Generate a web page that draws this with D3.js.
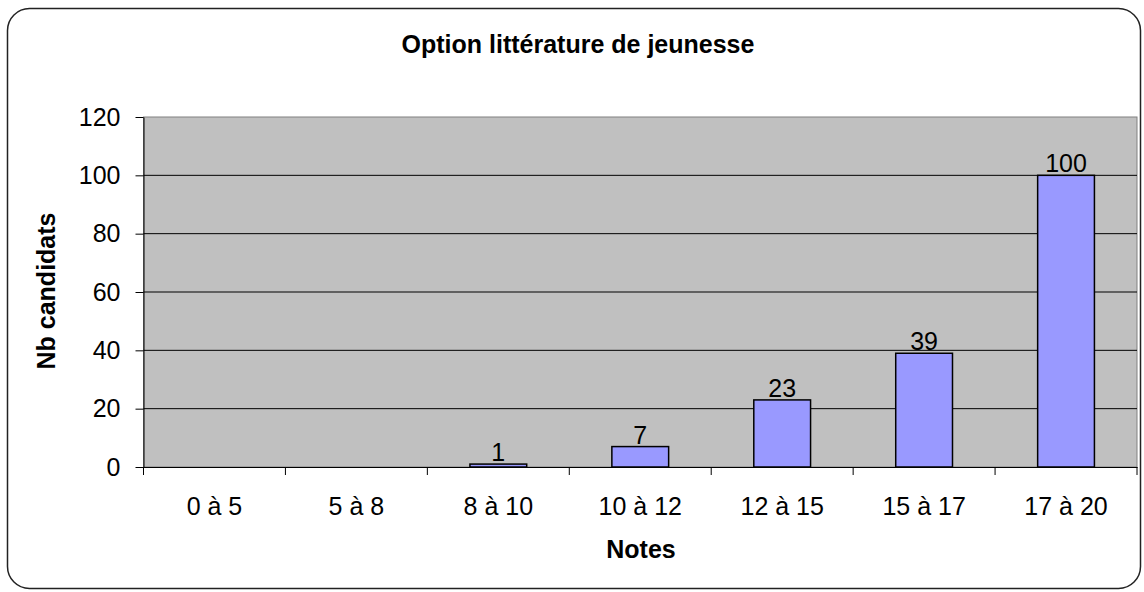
<!DOCTYPE html>
<html>
<head>
  <meta charset="utf-8">
  <title>Option littérature de jeunesse</title>
  <script src="https://d3js.org/d3.v7.min.js"></script>
  <style>
    body { margin: 0; background: #fff; }
    text { font-family: "Liberation Sans", Arial, sans-serif; }
  </style>
</head>
<body>
  <div id="chart"></div>

  <script>
    const categories = ["0 à 5", "5 à 8", "8 à 10", "10 à 12", "12 à 15", "15 à 17", "17 à 20"];
    const counts = [0, 0, 1, 7, 23, 39, 100];
    const yTicks = [0, 20, 40, 60, 80, 100, 120];

    const width = 1144;
    const height = 592;
    const plot = { left: 143.5, right: 1137, top: 117, bottom: 467 };

    const svg = d3.select("#chart")
      .append("svg")
      .attr("width", width)
      .attr("height", height);

    // outer frame
    svg.append("rect")
      .attr("x", 7.5).attr("y", 8.5)
      .attr("width", 1133).attr("height", 580)
      .attr("rx", 22)
      .attr("fill", "#fff")
      .attr("stroke", "#222")
      .attr("stroke-width", 1.5);

    const xScale = d3.scaleBand()
      .domain(categories)
      .range([plot.left, plot.right]);

    const yScale = d3.scaleLinear()
      .domain([0, 120])
      .range([plot.bottom, plot.top]);

    // plot background
    svg.append("rect")
      .attr("x", plot.left).attr("y", plot.top)
      .attr("width", plot.right - plot.left)
      .attr("height", plot.bottom - plot.top)
      .attr("fill", "#c0c0c0")
      .attr("stroke", "#808080");

    // gridlines
    svg.append("g")
      .selectAll("line")
      .data(yTicks.filter(d => d > 0 && d < 120))
      .enter()
      .append("line")
      .attr("x1", plot.left).attr("x2", plot.right)
      .attr("y1", d => yScale(d)).attr("y2", d => yScale(d))
      .attr("stroke", "#000")
      .attr("stroke-width", 1);

    // bars
    const barW = xScale.bandwidth() * 0.4;
    const barData = categories.map((c, i) => ({ c, v: counts[i] })).filter(d => d.v > 0);
    svg.append("g")
      .selectAll("rect")
      .data(barData)
      .enter()
      .append("rect")
      .attr("x", d => xScale(d.c) + (xScale.bandwidth() - barW) / 2)
      .attr("y", d => yScale(d.v))
      .attr("width", barW)
      .attr("height", d => yScale(0) - yScale(d.v))
      .attr("fill", "#9999ff")
      .attr("stroke", "#000")
      .attr("stroke-width", 1.5);

    // value labels
    svg.append("g")
      .selectAll("text")
      .data(barData)
      .enter()
      .append("text")
      .attr("x", d => xScale(d.c) + xScale.bandwidth() / 2)
      .attr("y", d => yScale(d.v) - 3)
      .attr("text-anchor", "middle")
      .attr("font-size", 25)
      .text(d => d.v);

    // axes
    const xAxis = d3.axisBottom(xScale).tickSize(0).tickPadding(30);
    const xg = svg.append("g")
      .attr("transform", `translate(0, ${plot.bottom})`)
      .call(xAxis);
    xg.select(".domain").attr("stroke", "#000");
    xg.selectAll("text").attr("font-size", 25).attr("fill", "#000");
    xg.append("g")
      .selectAll("line")
      .data(d3.range(categories.length + 1))
      .enter()
      .append("line")
      .attr("x1", i => plot.left + i * xScale.step())
      .attr("x2", i => plot.left + i * xScale.step())
      .attr("y1", 0).attr("y2", 8)
      .attr("stroke", "#000");

    const yAxis = d3.axisLeft(yScale).tickValues(yTicks).tickSize(8).tickPadding(15).tickSizeOuter(0);
    const yg = svg.append("g")
      .attr("transform", `translate(${plot.left}, 0)`)
      .call(yAxis);
    yg.select(".domain").attr("stroke", "#000");
    yg.selectAll("text").attr("font-size", 25).attr("fill", "#000");

    // titles
    svg.append("text")
      .attr("x", 578).attr("y", 53)
      .attr("text-anchor", "middle")
      .attr("font-size", 25)
      .attr("font-weight", "bold")
      .text("Option littérature de jeunesse");

    svg.append("text")
      .attr("x", 641).attr("y", 558)
      .attr("text-anchor", "middle")
      .attr("font-size", 25)
      .attr("font-weight", "bold")
      .text("Notes");

    svg.append("text")
      .attr("transform", "translate(55, 291) rotate(-90)")
      .attr("text-anchor", "middle")
      .attr("font-size", 25)
      .attr("font-weight", "bold")
      .text("Nb candidats");
  </script>
</body>
</html>
